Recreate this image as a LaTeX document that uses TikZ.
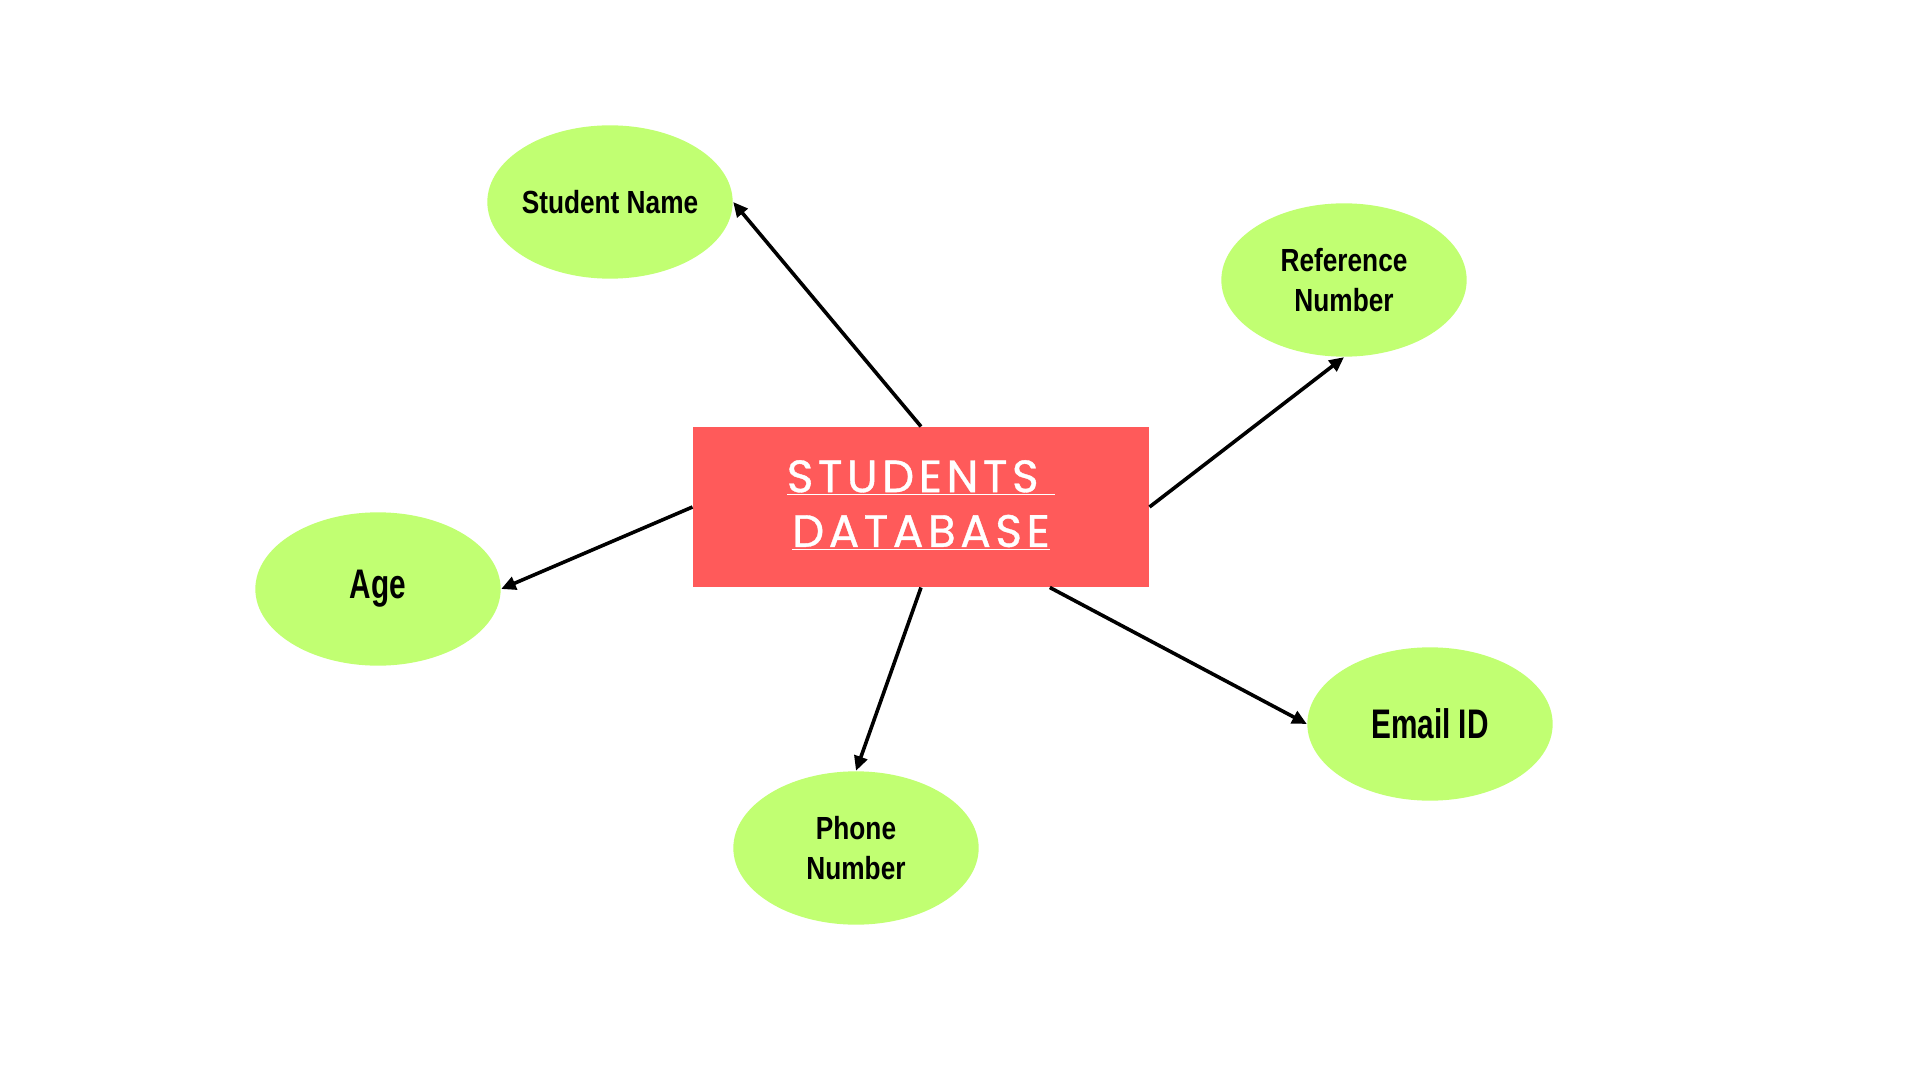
\documentclass[tikz,border=0pt]{standalone}
\usepackage{fontspec}
\setmainfont{Liberation Sans}
\newfontfamily\attrfont[FakeStretch=0.82]{Liberation Sans}
\newfontfamily\attrwide[FakeStretch=0.72]{Liberation Sans}
\newfontfamily\titlefont[LetterSpace=10,FakeBold=0.8]{Poppins}
\usetikzlibrary{shapes.geometric,arrows.meta}

\definecolor{dbred}{HTML}{FF5A5A}
\definecolor{attrgreen}{HTML}{C1FF72}

\tikzset{every picture/.style={line width=0.75pt}}
\tikzset{
  dbbox/.style={fill=dbred, minimum width=342pt, minimum height=120pt, inner sep=0pt},
  attr/.style={ellipse, fill=attrgreen, minimum width=184pt, minimum height=115pt, inner sep=0pt},
  attrtext/.style={font=\attrfont\bfseries\fontsize{24}{30}\selectfont, align=center},
  attrbig/.style={font=\attrwide\bfseries\fontsize{31}{36}\selectfont, align=center},
  link/.style={line width=2.7pt, -{Triangle[length=11pt,width=10pt]}}
}

\begin{document}
\begin{tikzpicture}[x=0.75pt,y=0.75pt,yscale=-1,xscale=1]

\useasboundingbox (0,0) rectangle (1920,1080);

% centre box
\draw (921,507) node [dbbox] (db) {};
\draw (921,505) node [align=center, text=white, font=\titlefont\fontsize{34}{41}\selectfont] (dbtitle) {\underline{STUDENTS\ }\\\underline{DATABASE}};

% attributes
\draw (610,202) node [attr, label={[attrtext]center:Student Name}] (sname) {};
\draw (1344,280) node [attr, label={[attrtext]center:Reference\\Number}] (refno) {};
\draw (378,589) node [attr, label={[attrbig]center:Age}] (age) {};
\draw (856,848) node [attr, label={[attrtext]center:Phone\\Number}] (phone) {};
\draw (1430,724) node [attr, label={[attrbig]center:Email ID}] (email) {};

% links
\draw [link] (db.north) -- (sname.east);
\draw [link] (db.east) -- (refno.south);
\draw [link] (db.west) -- (age.east);
\draw [link] (db.south) -- (phone.north);
\draw [link] (db.-32.5) -- (email.west);

\end{tikzpicture}
\end{document}
